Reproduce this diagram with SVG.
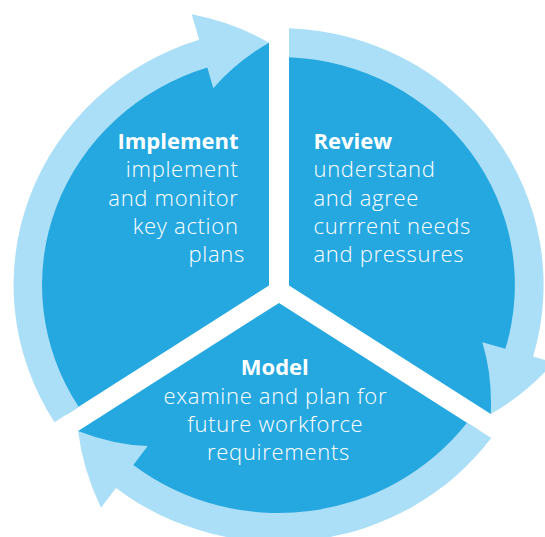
<svg xmlns="http://www.w3.org/2000/svg" width="545" height="537" viewBox="0 0 545 537">
  <style>
    .sector { fill: #25A8E0; }
    .arrow { fill: #ABDFF8; }
    text { font-family: "Open Sans", "Liberation Sans", sans-serif; font-size: 22px; font-weight: 300; letter-spacing: 0.7px; fill: #FFFFFF; }
    .title { font-weight: 700; letter-spacing: 0; }
  </style>
  <rect width="545" height="537" fill="#FFFFFF"/>
  <g id="node-implement">
    <path class="sector" d="M 269,285.5 L 269,42.7 A 250.75 242.5 0 0 0 66.5,414.5 Z"/>
    <text text-anchor="end">
      <tspan class="title" x="245" y="149">Implement</tspan>
      <tspan x="245" y="177">implement</tspan>
      <tspan x="245" y="205.5">and monitor</tspan>
      <tspan x="245" y="233.5">key action</tspan>
      <tspan x="245" y="262">plans</tspan>
    </text>
  </g>
  <g id="node-review">
    <path class="sector" d="M 289,285.5 L 289,42.7 A 250.75 242.5 0 0 1 490.8,414 Z"/>
    <text text-anchor="start">
      <tspan class="title" x="313.5" y="149">Review</tspan>
      <tspan x="313.5" y="177">understand</tspan>
      <tspan x="313.5" y="205.5">and agree</tspan>
      <tspan x="313.5" y="233.5">currrent needs</tspan>
      <tspan x="313.5" y="262">and pressures</tspan>
    </text>
  </g>
  <g id="node-model">
    <path class="sector" d="M 279,302.9 L 479.1,430.4 A 250.75 242.5 0 0 1 78.1,430.9 Z"/>
    <text text-anchor="middle">
      <tspan class="title" x="278" y="375">Model</tspan>
      <tspan x="278.5" y="403.5">examine and plan for</tspan>
      <tspan x="278.5" y="432">future workforce</tspan>
      <tspan x="278.5" y="460">requirements</tspan>
    </text>
  </g>
  <g id="connectors">
    <path id="arrow-implement-review" class="arrow" d="M 54.5,422.2 A 265 257 0 0 1 199.1,39.8 L 191.7,14.3 Q 234.85,22.7 269,42.7 Q 235.45,62.1 213.3,88.3 L 207.3,67.6 A 236.5 228 0 0 0 78.6,406.8 Z"/>
    <path id="arrow-review-model" class="arrow" d="M 289,28.2 A 265 257 0 0 1 533.1,356.6 L 554,362.5 Q 524.8,394.95 490.8,414 Q 492.45,375.25 482.3,342.3 L 505.4,348.8 A 236.5 228 0 0 0 289,57.2 Z"/>
    <path id="arrow-model-implement" class="arrow" d="M 491.3,438.1 A 265 257 0 0 1 116,488 L 101,507.7 Q 82.65,469.1 78.1,430.9 Q 113.9,444.95 147.7,446 L 133.3,465 A 236.5 228 0 0 0 467,422.7 Z"/>
  </g>
</svg>
